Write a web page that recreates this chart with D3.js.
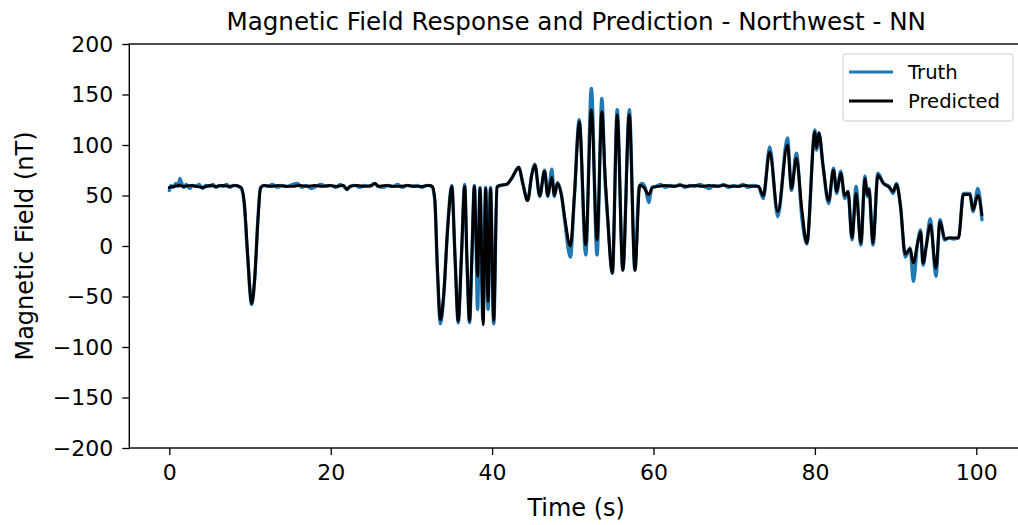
<!DOCTYPE html>
<html>
<head>
<meta charset="utf-8">
<script src="https://cdn.jsdelivr.net/npm/d3@7"></script>
<style>
  html, body { margin: 0; padding: 0; background: #ffffff; }
  svg { display: block; font-family: "DejaVu Sans", sans-serif; }
</style>
</head>
<body>
<svg id="chart" width="1018" height="525"></svg>
<script>
// ---- Data ----
const titleText = "Magnetic Field Response and Prediction - Northwest - NN";
const xLabel = "Time (s)";
const yLabel = "Magnetic Field (nT)";
const xTicks = [0, 20, 40, 60, 80, 100];
const yTicks = [-200, -150, -100, -50, 0, 50, 100, 150, 200];
const seriesNames = ["Truth", "Predicted"];

// [time (s), field (nT)]
const truthPoints = [
  [0.0,55],[0.2,60],[0.5,58],[0.8,62],[1.1,59],[1.3,67],[1.5,63],[1.8,58],[2.1,61],[2.5,57],
  [2.9,60],[3.3,59],[3.7,61],[4.1,57],[4.5,60],[5.0,59],[5.4,61],[5.8,58],[6.2,60],[6.7,59],
  [7.1,61],[7.5,58],[8.0,60],[8.5,59],[8.9,57],[9.3,40],[9.7,-10],[10.2,-58],[10.6,-30],[11.0,30],
  [11.3,58],[11.7,60],[12.2,59],[12.8,61],[13.4,58],[14.0,60],[14.6,59],[15.3,61],[15.9,62],[16.4,58],
  [17.0,60],[17.6,57],[18.2,59],[18.8,61],[19.4,59],[20.0,60],[20.6,58],[21.2,61],[21.6,59],[22.0,56],
  [22.4,59],[23.0,60],[23.6,58],[24.2,60],[24.8,59],[25.4,62],[25.9,59],[26.5,58],[27.1,60],[27.7,59],
  [28.3,61],[28.9,58],[29.5,60],[30.1,59],[30.7,60],[31.3,58],[31.9,60],[32.5,59],[32.9,45],[33.2,-20],
  [33.6,-77],[34.0,-50],[34.5,20],[35.0,60],[35.4,-10],[35.8,-76],[36.2,-10],[36.6,61],[36.9,-20],[37.2,-76],
  [37.5,-10],[37.8,60],[38.0,10],[38.2,-63],[38.5,58],[38.85,-72],[39.2,58],[39.5,-63],[39.8,58],[40.2,-77],
  [40.6,59],[41.0,60],[41.8,61],[42.5,68],[43.3,78],[43.8,62],[44.4,45],[44.9,70],[45.3,81],[45.9,49],
  [46.5,75],[46.9,49],[47.4,76],[47.7,49],[48.1,63],[48.6,50],[49.0,25],[49.7,-11],[50.2,50],[50.8,125],
  [51.6,-9],[52.3,156],[53.0,-9],[53.6,146],[54.0,64],[54.3,30],[54.9,-27],[55.5,135],[56.2,-24],[57.0,135],
  [57.7,-24],[58.2,58],[58.6,62],[59.0,57],[59.4,43],[59.8,58],[60.3,59],[60.9,61],[61.5,58],[62.1,60],
  [62.7,59],[63.3,61],[63.9,58],[64.5,60],[65.1,59],[65.7,61],[66.3,59],[66.9,57],[67.5,60],[68.1,59],
  [68.7,61],[69.3,58],[69.9,60],[70.5,59],[71.1,61],[71.7,58],[72.3,60],[73.0,59],[73.6,47],[74.4,98],
  [75.4,29],[76.6,107],[77.1,55],[77.7,92],[78.4,27],[79.0,2],[80.0,115],[80.2,95],[80.5,112],[81.0,80],
  [81.7,42],[82.3,77],[82.7,52],[83.2,74],[83.7,47],[84.1,54],[84.6,6],[85.1,59],[85.7,1],[86.2,69],
  [86.5,49],[86.7,57],[87.2,1],[87.8,72],[88.5,62],[89.2,59],[89.7,52],[90.1,62],[90.6,40],[91.2,-11],
  [91.8,-2],[92.2,-35],[92.7,1],[93.1,16],[93.4,-19],[93.8,0],[94.3,27],[95.0,-30],[95.5,26],[96.1,6],
  [96.6,8],[97.2,7],[97.8,8],[98.4,52],[99.2,52],[99.6,34],[100.2,57],[100.7,26]
];

const predPoints = [
  [0.0,58],[0.6,59],[1.2,60],[1.8,59],[2.6,60],[3.4,59],[4.2,58],[5.0,60],[5.8,59],[6.6,60],
  [7.4,59],[8.2,60],[8.9,58],[9.3,42],[9.7,-8],[10.2,-57],[10.6,-30],[11.0,28],[11.3,57],[11.8,60],
  [12.6,59],[13.5,60],[14.4,59],[15.3,59],[16.2,60],[17.1,59],[18.0,60],[18.9,59],[19.8,60],[20.7,59],
  [21.6,60],[22.0,56],[22.4,59],[23.3,60],[24.2,59],[25.1,60],[25.5,62],[25.9,59],[26.8,60],[27.7,59],
  [28.6,59],[29.5,60],[30.4,59],[31.3,59],[32.2,60],[32.6,59],[32.9,46],[33.2,-18],[33.6,-73],[34.0,-48],
  [34.5,18],[35.0,59],[35.4,-10],[35.8,-74],[36.2,-10],[36.6,59],[36.9,-18],[37.2,-74],[37.5,-8],[37.8,59],
  [38.0,10],[38.2,-30],[38.5,57],[38.9,-78],[39.2,57],[39.5,-55],[39.8,57],[40.2,-74],[40.6,58],[41.0,60],
  [41.8,61],[42.5,68],[43.3,78],[43.8,62],[44.4,45],[44.9,70],[45.3,80],[45.9,50],[46.5,74],[46.9,50],
  [47.4,68],[47.7,50],[48.1,62],[48.6,50],[49.0,28],[49.7,0],[50.2,50],[50.8,123],[51.6,1],[52.3,135],
  [53.0,6],[53.6,133],[54.0,70],[54.3,30],[54.9,-27],[55.5,130],[56.2,-24],[57.0,130],[57.7,-24],[58.3,60],
  [58.8,58],[59.4,51],[59.9,58],[60.6,59],[61.5,60],[62.4,59],[63.3,60],[64.2,59],[65.1,60],[66.0,59],
  [66.9,60],[67.8,59],[68.7,60],[69.6,59],[70.5,59],[71.4,60],[72.3,59],[73.0,59],[73.6,50],[74.4,93],
  [75.4,34],[76.6,100],[77.1,57],[77.7,87],[78.4,35],[79.0,3],[80.0,113],[80.2,97],[80.5,112],[81.0,80],
  [81.7,45],[82.3,75],[82.7,54],[83.2,72],[83.7,50],[84.1,54],[84.6,8],[85.1,52],[85.7,3],[86.2,67],
  [86.5,51],[86.7,56],[87.2,3],[87.8,70],[88.5,62],[89.2,58],[89.7,54],[90.1,61],[90.6,40],[91.2,-8],
  [91.8,-3],[92.2,-17],[92.7,2],[93.1,14],[93.4,-17],[93.8,0],[94.3,21],[95.0,-22],[95.5,24],[96.1,7],
  [96.6,8],[97.2,8],[97.8,8],[98.4,51],[99.2,51],[99.6,36],[100.2,50],[100.7,31]
];

const seriesColors = ["#1f77b4", "#000000"];

// ---- Layout ----
const W = 1018, H = 525;
const plot = { left: 129.3, right: 1023.1, top: 44, bottom: 448 };

const svg = d3.select("#chart");

const x = d3.scaleLinear().domain([-4.96, 105.8]).range([plot.left, plot.right]);
const y = d3.scaleLinear().domain([-200, 200]).range([plot.bottom, plot.top]);

// clip
svg.append("defs").append("clipPath").attr("id", "clip")
  .append("rect")
  .attr("x", plot.left).attr("y", plot.top)
  .attr("width", plot.right - plot.left).attr("height", plot.bottom - plot.top);

// lines
const line = d3.line()
  .x(d => x(d[0]))
  .y(d => y(d[1]))
  .curve(d3.curveMonotoneX);

const g = svg.append("g").attr("clip-path", "url(#clip)");
g.append("path").datum(truthPoints)
  .attr("d", line).attr("fill", "none")
  .attr("stroke", seriesColors[0]).attr("stroke-width", 3.4)
  .attr("stroke-linejoin", "round").attr("stroke-linecap", "round");
g.append("path").datum(predPoints)
  .attr("d", line).attr("fill", "none")
  .attr("stroke", seriesColors[1]).attr("stroke-width", 2.9)
  .attr("stroke-linejoin", "round").attr("stroke-linecap", "round");

// spines
const spine = svg.append("g").attr("fill", "none").attr("stroke", "#000").attr("stroke-width", 1.4);
spine.append("rect")
  .attr("x", plot.left).attr("y", plot.top)
  .attr("width", plot.right - plot.left).attr("height", plot.bottom - plot.top);

// axes
const xAxis = d3.axisBottom(x).tickValues(xTicks).tickFormat(d3.format("d")).tickSize(7).tickPadding(9);
const yAxis = d3.axisLeft(y).tickValues(yTicks)
  .tickFormat(d => d < 0 ? "\u2212" + Math.abs(d) : String(d)).tickSize(7).tickPadding(9);

const gx = svg.append("g").attr("transform", `translate(0,${plot.bottom})`).call(xAxis);
const gy = svg.append("g").attr("transform", `translate(${plot.left},0)`).call(yAxis);
[gx, gy].forEach(a => {
  a.select(".domain").remove();
  a.selectAll(".tick line").attr("stroke", "#000").attr("stroke-width", 1.3);
  a.selectAll(".tick text").attr("fill", "#000")
    .style("font-family", "'DejaVu Sans', sans-serif").style("font-size", "22px");
});

// title and labels
svg.append("text")
  .attr("x", (plot.left + plot.right) / 2).attr("y", 30)
  .attr("text-anchor", "middle")
  .style("font-size", "24.6px").attr("fill", "#000")
  .text(titleText);

svg.append("text")
  .attr("x", (plot.left + plot.right) / 2).attr("y", 516)
  .attr("text-anchor", "middle")
  .style("font-size", "24px").attr("fill", "#000")
  .text(xLabel);

svg.append("text")
  .attr("transform", `translate(33,${(plot.top + plot.bottom) / 2}) rotate(-90)`)
  .attr("text-anchor", "middle")
  .style("font-size", "24px").attr("fill", "#000")
  .text(yLabel);

// legend
const legend = svg.append("g");
legend.append("rect")
  .attr("x", 843).attr("y", 54).attr("width", 170).attr("height", 67)
  .attr("rx", 3).attr("ry", 3)
  .attr("fill", "#fff").attr("fill-opacity", 0.8)
  .attr("stroke", "#cccccc").attr("stroke-width", 1);

const legendRows = [72, 101];
seriesNames.forEach((name, i) => {
  legend.append("line")
    .attr("x1", 849).attr("x2", 893)
    .attr("y1", legendRows[i]).attr("y2", legendRows[i])
    .attr("stroke", seriesColors[i]).attr("stroke-width", i === 0 ? 3 : 3.2);
  legend.append("text")
    .attr("x", 908).attr("y", legendRows[i] + 7)
    .style("font-size", "19.6px").attr("fill", "#000")
    .text(name);
});
</script>
</body>
</html>
